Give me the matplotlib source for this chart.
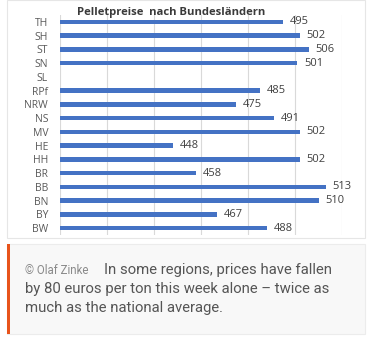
import numpy as np
import matplotlib.pyplot as plt
from matplotlib.patches import Rectangle

# Pelletpreise je Bundesland (EUR/t), SL ohne Wert
states = ["TH", "SH", "ST", "SN", "SL", "RPf", "NRW", "NS",
          "MV", "HE", "HH", "BR", "BB", "BN", "BY", "BW"]
prices = [495, 502, 506, 501, np.nan, 485, 475, 491,
          502, 448, 502, 458, 513, 510, 467, 488]
title = "Pelletpreise  nach Bundesländern"
credit = "© Olaf Zinke"
caption = ["In some regions, prices have fallen",
           "by 80 euros per ton this week alone – twice as",
           "much as the national average."]

W, H = 367, 338
fig = plt.figure(figsize=(W / 100, H / 100), dpi=100)
fig.patch.set_facecolor("white")


def fx(px):
    return px / W


def fy(py):
    return 1 - py / H


# white chart panel with faint border
fig.patches.append(Rectangle((fx(7), fy(238)), fx(365) - fx(7), fy(0) - fy(238),
                             transform=fig.transFigure, facecolor="white",
                             edgecolor="#e6e6e6", lw=0.8, zorder=0))

ax = fig.add_axes([fx(60), fy(235), fx(342) - fx(60), fy(15) - fy(235)])
ax.set_zorder(3)
ax.set_facecolor("none")
y = np.arange(len(states))
vals = np.array(prices, dtype=float)
ax.barh(y, np.nan_to_num(vals - 400), left=400, height=0.33, color="#4472C4", zorder=3)
for yi, v in zip(y, vals):
    if not np.isnan(v):
        ax.text(v + 2.8, yi, f"{int(v)}", va="center", ha="left",
                fontsize=8, color="#404040", family="Open Sans")
ax.set_xlim(400, 520)
ax.set_ylim(len(states) - 0.5, -0.5)
ax.set_xticks(np.arange(400, 521, 20))
ax.set_xticklabels([])
ax.set_yticks(y)
ax.set_yticklabels(states, fontsize=7.5, color="#595959", family="Open Sans")
ax.tick_params(length=0, pad=8.6)
ax.grid(axis="x", color="#d9d9d9", lw=0.8, zorder=0)
for s in ax.spines.values():
    s.set_visible(False)

fig.text(fx(171), fy(13), title, ha="center", va="center", fontsize=8.1,
         fontweight="bold", color="#3a3a3a", family="Open Sans", zorder=4)

# caption box
fig.patches.append(Rectangle((fx(7), fy(334)), fx(365) - fx(7), fy(244) - fy(334),
                             transform=fig.transFigure, facecolor="#f8f8f8",
                             edgecolor="#ececec", lw=0.8, zorder=0))
fig.patches.append(Rectangle((fx(7), fy(334)), fx(10) - fx(7), fy(244) - fy(334),
                             transform=fig.transFigure, facecolor="#e8541c",
                             edgecolor="none", zorder=1))
fig.text(fx(25), fy(270), credit, ha="left", va="center", fontsize=8.3,
         color="#8a8a8a", family="Roboto", zorder=4)
fig.text(fx(104), fy(270), caption[0], ha="left", va="center", fontsize=10.7,
         color="#555555", family="Roboto", zorder=4)
fig.text(fx(25), fy(289), caption[1], ha="left", va="center", fontsize=10.7,
         color="#555555", family="Roboto", zorder=4)
fig.text(fx(25), fy(308), caption[2], ha="left", va="center", fontsize=10.7,
         color="#555555", family="Roboto", zorder=4)

fig.savefig("out.png", dpi=100)
